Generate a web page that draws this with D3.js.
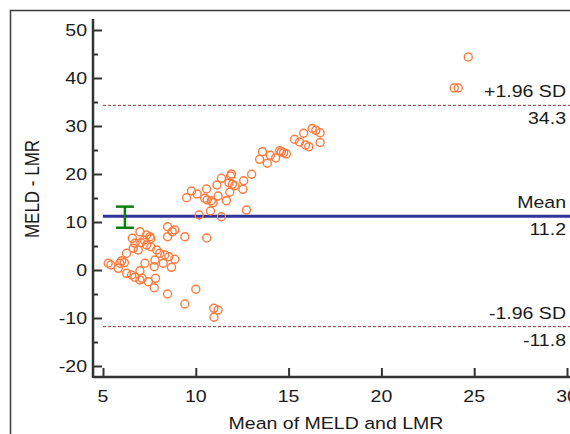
<!DOCTYPE html>
<html><head><meta charset="utf-8">
<script src="https://cdn.jsdelivr.net/npm/d3@7"></script>
<style>
body{margin:0;background:#fff}
svg{display:block}
text{font-family:"Liberation Sans",Arial,sans-serif;fill:#1a1a1a}
</style>
</head><body>
<svg id="c" width="570" height="434"></svg>
<script>
// ---- data ----
const meanValues = [
  5.28,5.43,5.82,5.91,6.01,6.15,6.27,6.27,6.54,6.58,6.63,6.72,6.72,6.90,6.99,6.99,6.99,7.04,7.11,7.22,
  7.26,7.35,7.35,7.44,7.53,7.58,7.58,7.76,7.76,7.80,7.83,7.89,8.06,8.24,8.33,8.48,8.48,8.48,8.55,8.69,
  8.73,8.87,8.87,9.41,9.41,
  9.50,9.77,10.07,10.18,10.48,10.58,10.61,10.79,10.84,10.93,11.14,11.20,11.38,11.38,11.65,11.79,11.83,11.92,11.88,11.97,
  12.10,12.54,12.58,12.73,13.01,13.44,13.59,13.85,14.02,14.30,14.52,14.61,14.73,14.88,15.32,15.59,15.81,15.91,16.09,16.27,
  16.47,16.70,16.70,10.59,10.00,10.97,11.20,10.98,23.92,24.14,24.68
];
const diffValues = [
  1.40,1.04,0.35,1.40,1.94,1.52,3.48,-0.69,-1.04,6.60,4.52,5.56,-1.52,4.17,7.98,-0.15,-2.08,5.69,-1.73,6.25,
  1.40,7.29,5.21,-2.44,6.94,4.85,6.56,0.69,-3.69,2.08,-1.73,4.17,3.48,1.40,3.13,9.02,6.94,-5.00,2.77,0.56,
  7.98,8.33,2.23,6.94,-7.08,
  15.06,16.46,15.83,11.46,14.94,16.88,14.58,12.29,14.44,14.02,17.71,15.42,19.10,11.10,14.44,18.19,16.19,20.00,19.58,17.85,
  17.56,16.81,18.60,12.50,19.94,23.06,24.65,22.23,23.90,23.33,24.85,24.65,24.44,24.17,27.23,26.67,28.48,26.04,25.69,29.48,
  29.10,28.60,26.56,6.67,-4.02,-7.98,-8.33,-9.85,37.92,37.92,44.38
];
const xTickValues = [5, 10, 15, 20, 25, 30];
const yTickValues = [-20, -10, 0, 10, 20, 30, 40, 50];
const yMinorTickValues = [-15, -5, 5, 15, 25, 35, 45];
const limitValues = [34.3, 11.2, -11.8];
const limitNames = ["+1.96 SD", "Mean", "-1.96 SD"];
const limitNumbers = ["34.3", "11.2", "-11.8"];
const meanCI = [8.8, 13.2];
const ciAtX = 6.18;
const xTitle = "Mean of MELD and LMR";
const yTitle = "MELD - LMR";

// ---- drawing ----
const SX = 1.15; // horizontal stretch of the reference's text
const svg = d3.select("#c");
const x = d3.scaleLinear().domain([5, 30]).range([103, 567]);
const y = d3.scaleLinear().domain([-20, 50]).range([366, 30]);
const axisX0 = 93, axisY0 = 377, axisTop = 19, axisRight = 580;

// outer frame
svg.append("rect").attr("x", 10.5).attr("y", 10.5).attr("width", 700).attr("height", 700)
  .attr("fill", "none").attr("stroke", "#3a3a3a").attr("stroke-width", 1.5);

// limit lines
const lines = svg.append("g");
limitValues.forEach((v, i) => {
  const isMean = i === 1;
  lines.append("line")
    .attr("x1", x(5)).attr("x2", axisRight)
    .attr("y1", y(v)).attr("y2", y(v))
    .attr("stroke", isMean ? "#31329a" : "#9b3a3a")
    .attr("stroke-width", isMean ? 3 : 1)
    .attr("stroke-dasharray", isMean ? null : "3,2");
  lines.append("text").attr("text-anchor", "end").attr("font-size", 17)
    .attr("transform", `translate(566,${y(v) - 8}) scale(${SX},1)`).text(limitNames[i]);
  lines.append("text").attr("text-anchor", "end").attr("font-size", 17)
    .attr("transform", `translate(566,${y(v) + 19}) scale(${SX},1)`).text(limitNumbers[i]);
});

// CI error bar of the mean
const ci = svg.append("g").attr("stroke", "#0a7f0a").attr("stroke-width", 2.5);
ci.append("line").attr("x1", x(ciAtX)).attr("x2", x(ciAtX)).attr("y1", y(meanCI[0])).attr("y2", y(meanCI[1]));
[0, 1].forEach(k => ci.append("line")
  .attr("x1", x(ciAtX) - 9).attr("x2", x(ciAtX) + 9)
  .attr("y1", y(meanCI[k])).attr("y2", y(meanCI[k])));

// points
svg.append("g").selectAll("circle").data(meanValues).join("circle")
  .attr("cx", (d) => x(d)).attr("cy", (d, i) => y(diffValues[i]))
  .attr("r", 4).attr("fill", "none").attr("stroke", "#ff7a3c").attr("stroke-width", 1.4);

// axes (ticks inside)
const axCol = "#333";
const gx = svg.append("g").attr("transform", `translate(0,${axisY0})`)
  .call(d3.axisBottom(x).tickValues(xTickValues).tickSize(-9).tickFormat(""));
const gy = svg.append("g").attr("transform", `translate(${axisX0},0)`)
  .call(d3.axisLeft(y).tickValues(yTickValues).tickSize(-9).tickFormat(""));
const gym = svg.append("g").attr("transform", `translate(${axisX0},0)`)
  .call(d3.axisLeft(y).tickValues(yMinorTickValues).tickSize(-5).tickFormat(""));
[gx, gy, gym].forEach(g => {
  g.select(".domain").remove();
  g.selectAll(".tick line").attr("stroke", axCol).attr("stroke-width", 2);
});
svg.append("line").attr("x1", axisX0).attr("x2", axisRight).attr("y1", axisY0).attr("y2", axisY0)
  .attr("stroke", axCol).attr("stroke-width", 2.5);
svg.append("line").attr("x1", axisX0).attr("x2", axisX0).attr("y1", axisTop).attr("y2", axisY0 + 1)
  .attr("stroke", axCol).attr("stroke-width", 2.5);

// tick labels
svg.append("g").selectAll("text").data(xTickValues).join("text")
  .attr("text-anchor", "middle").attr("font-size", 17)
  .attr("transform", d => `translate(${x(d)},402) scale(${SX},1)`).text(d => d);
svg.append("g").selectAll("text").data(yTickValues).join("text")
  .attr("text-anchor", "end").attr("font-size", 17)
  .attr("transform", d => `translate(87,${y(d) + 6}) scale(${SX},1)`).text(d => d);

// titles
svg.append("text").attr("text-anchor", "middle").attr("font-size", 17)
  .attr("transform", `translate(336,429) scale(${SX},1)`).text(xTitle);
svg.append("text").attr("text-anchor", "middle").attr("font-size", 17)
  .attr("transform", `translate(39,189) scale(${SX},1) rotate(-90)`).text(yTitle);
</script>
</body></html>
